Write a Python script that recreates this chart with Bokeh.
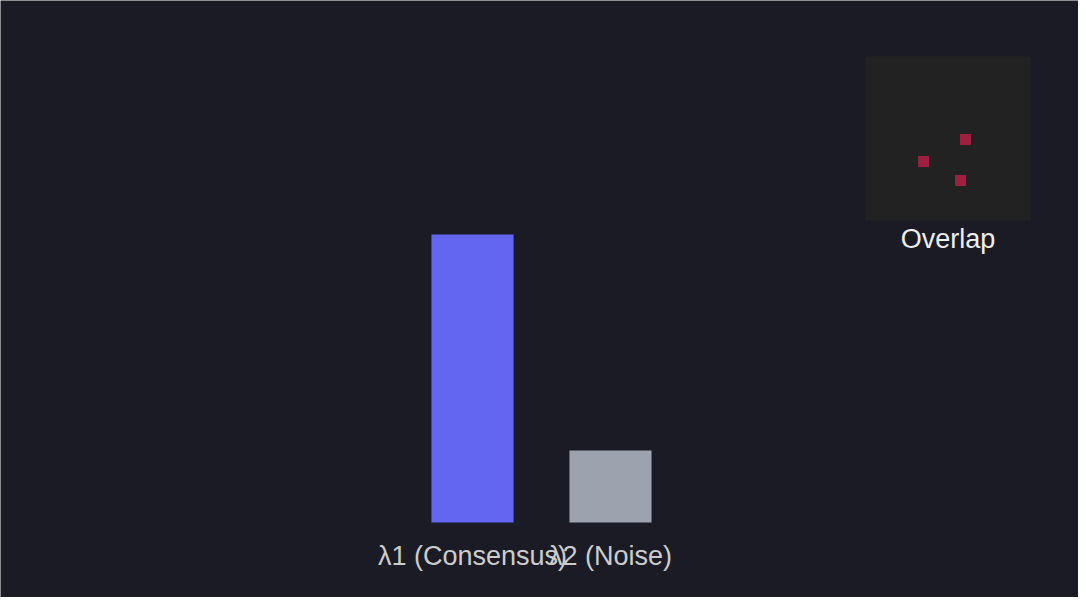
from bokeh.plotting import figure
from bokeh.models import Range1d, ColumnDataSource
from bokeh.core.properties import value
from bokeh.embed import file_html
from bokeh.resources import INLINE

# ---- data ----
categories = ["λ1 (Consensus)", "λ2 (Noise)"]
eigenvalues = [0.8, 0.2]
bar_colors = ["#6366f1", "#9ca3af"]

overlap_x = [0.606, 0.352, 0.576]
overlap_y = [0.494, 0.360, 0.244]
inset_label = "Overlap"

# ---- layout constants ----
W, H = 1078, 597
BG = "#1b1b25"

# main ranges: bar spacing 138px per unit, 360px per value unit
px_x = 138.0
px_y = 360.0
bar0_px = 472.0   # center of first bar inside frame
base_px = 522.0   # baseline (value 0) from frame top
x_start = -bar0_px / px_x
x_end = x_start + W / px_x
y_end = base_px / px_y
y_start = y_end - H / px_y

p = figure(width=W, height=H, output_backend="svg", toolbar_location=None,
           x_axis_type=None, y_axis_type=None,
           x_range=Range1d(x_start, x_end), y_range=Range1d(y_start, y_end),
           min_border=0, background_fill_color=BG, border_fill_color=BG)
p.outline_line_color = None
p.grid.visible = False

xs = list(range(len(categories)))
src = ColumnDataSource(dict(x=xs, top=eigenvalues, color=bar_colors, label=categories))
p.vbar(x="x", top="top", bottom=0, width=0.595, fill_color="color", line_color=None, source=src)

label_y = -33.0 / px_y
p.text(x="x", y=label_y, text="label", source=src, text_align="center",
       text_baseline="middle", text_color="#cccccc", text_font_size="27px",
       text_font=value("Liberation Sans"))

# ---- inset (own unit coordinate system mapped onto a box) ----
box_left, box_w = 865.0, 165.0
box_top, box_h = 56.0, 164.0
ix_start = -box_left / box_w
ix_end = (W - box_left) / box_w
iy_end = (box_top + box_h) / box_h
iy_start = (box_top + box_h - H) / box_h
p.extra_x_ranges = {"inset_x": Range1d(ix_start, ix_end)}
p.extra_y_ranges = {"inset_y": Range1d(iy_start, iy_end)}

p.quad(left=0, right=1, bottom=0, top=1, fill_color="#222222", line_color=None,
       x_range_name="inset_x", y_range_name="inset_y")
p.scatter(x=overlap_x, y=overlap_y, marker="square", size=11,
          fill_color="#9e1f3e", line_color=None,
          x_range_name="inset_x", y_range_name="inset_y")
p.text(x=[0.5], y=[-0.11], text=[inset_label], text_align="center",
       text_baseline="middle", text_color="#eeeeee", text_font_size="27px",
       text_font=value("Liberation Sans"),
       x_range_name="inset_x", y_range_name="inset_y")

open("out.html", "w").write(file_html(p, INLINE))
